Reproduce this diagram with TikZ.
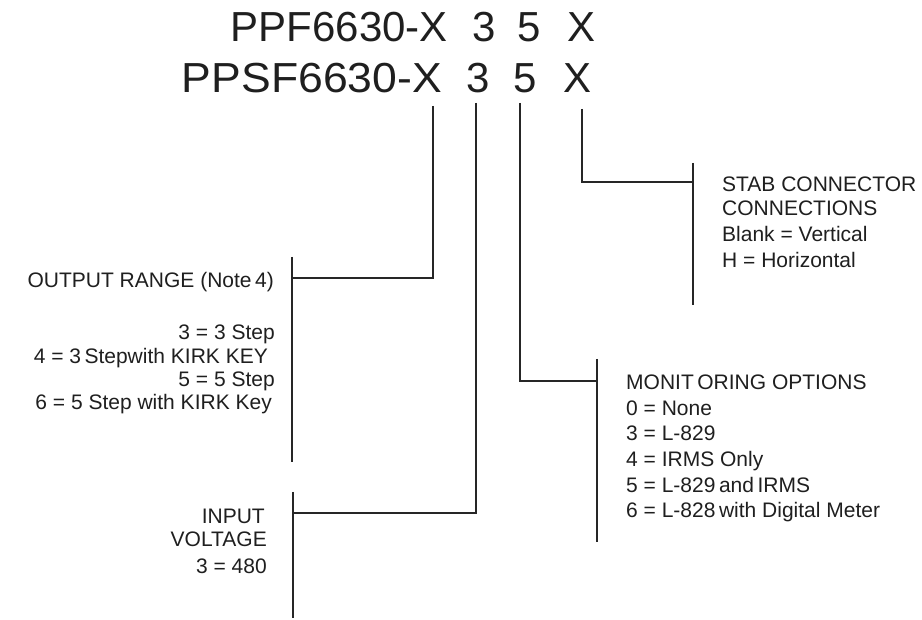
\documentclass[tikz,border=0pt]{standalone}
\usepackage{fontspec}
\setmainfont{Liberation Sans}
\begin{document}
\begin{tikzpicture}[x=1pt,y=-1pt,
  ttl/.style={inner sep=0pt,font=\fontsize{42}{46}\selectfont,text=black!88},
  lbl/.style={inner sep=0pt,font=\fontsize{21}{25}\selectfont,text=black!88},
  wire/.style={line width=1.4pt,draw=black!85}]
\useasboundingbox[fill=white] (0,0) rectangle (922,620);
% title rows
\node[ttl,anchor=base east] (t1a) at (448,42) {PPF6630-X};
\node[ttl,anchor=base] (t1b) at (484,42) {3};
\node[ttl,anchor=base] (t1c) at (529,42) {5};
\node[ttl,anchor=base] (t1d) at (582,42) {X};
\node[ttl,anchor=base east] (t2a) at (442,93) {\scalebox{1.06}[1]{PPSF6630-X}};
\node[ttl,anchor=base] (t2b) at (478,93) {3};
\node[ttl,anchor=base] (t2c) at (525,93) {5};
\node[ttl,anchor=base] (t2d) at (578,93) {X};
% drop points and bars
\coordinate (d1) at (433,106);
\coordinate (d2) at (476,103);
\coordinate (d3) at (520,103);
\coordinate (d4) at (582,109);
\coordinate (b1t) at (292,257); \coordinate (b1b) at (292,462); \coordinate (b1m) at (292,278);
\coordinate (b2t) at (293,492); \coordinate (b2b) at (293,618); \coordinate (b2m) at (293,513);
\coordinate (b3t) at (597,359); \coordinate (b3b) at (597,542); \coordinate (b3m) at (597,381);
\coordinate (b4t) at (693,163); \coordinate (b4b) at (693,305); \coordinate (b4m) at (693,182);
\draw[wire] (b1t) -- (b1b);
\draw[wire] (b2t) -- (b2b);
\draw[wire] (b3t) -- (b3b);
\draw[wire] (b4t) -- (b4b);
\draw[wire] (d1) |- (b1m);
\draw[wire] (d2) |- (b2m);
\draw[wire] (d3) |- (b3m);
\draw[wire] (d4) |- (b4m);
% output range
\node[lbl,anchor=base east] (o0) at (274,288) {OUTPUT RANGE (Note\,4)};
\node[lbl,anchor=base east] (o1) at (275,340) {3 = 3 Step};
\node[lbl,anchor=base east] (o2) at (268,363.5) {4 = 3\,Stepwith KIRK KEY};
\node[lbl,anchor=base east] (o3) at (275,387) {5 = 5 Step};
\node[lbl,anchor=base east] (o4) at (272,410) {6 = 5 Step with KIRK Key};
% input voltage
\node[lbl,anchor=base east] (i0) at (265,523) {INPUT};
\node[lbl,anchor=base east] (i1) at (267,547) {VOLTAGE};
\node[lbl,anchor=base east] (i2) at (267,573) {3 = 480};
% stab connector
\node[lbl,anchor=base west] (s0) at (722,192) {STAB CONNECTOR};
\node[lbl,anchor=base west] (s1) at (722,216) {CONNECTIONS};
\node[lbl,anchor=base west] (s2) at (722,242) {Blank = Vertical};
\node[lbl,anchor=base west] (s3) at (722,268) {H = Horizontal};
% monitoring
\node[lbl,anchor=base west] (m0) at (626,390) {MONIT\,ORING OPTIONS};
\node[lbl,anchor=base west] (m1) at (626,416) {0 = None};
\node[lbl,anchor=base west] (m2) at (626,441) {3 = L-829};
\node[lbl,anchor=base west] (m3) at (626,467) {4 = IRMS Only};
\node[lbl,anchor=base west] (m4) at (626,493) {5 = L-829\,and\,IRMS};
\node[lbl,anchor=base west] (m5) at (626,518) {6 = L-828\,with Digital Meter};
\end{tikzpicture}
\end{document}
